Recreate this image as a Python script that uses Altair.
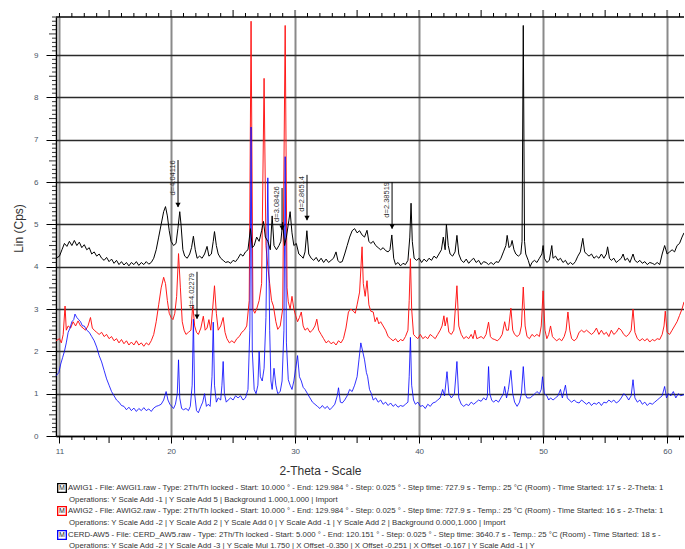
import altair as alt
import pandas as pd

# ---------------- data ----------------
awig1_theta = [10.72, 11.0, 11.2, 11.4, 11.6, 11.8, 12.0, 12.2, 12.4, 12.6, 12.8, 13.0, 13.2, 13.4, 13.6, 13.8,
               14.0, 14.2, 14.4, 14.6, 14.8, 15.0, 15.2, 15.4, 15.6, 15.8, 16.0, 16.2, 16.4, 16.6, 16.8, 17.0,
               17.2, 17.4, 17.6, 17.8, 18.0, 18.2, 18.4, 18.6, 18.8, 19.0, 19.2, 19.4, 19.55, 19.7, 19.85, 20.0,
               20.2, 20.4, 20.55, 20.7, 20.8, 20.95, 21.1, 21.3, 21.5, 21.65, 21.8, 21.95, 22.1, 22.3, 22.5, 22.7,
               22.9, 23.05, 23.25, 23.4, 23.5, 23.65, 23.8, 24.0, 24.2, 24.4, 24.6, 24.8, 25.0, 25.2, 25.4, 25.6,
               25.8, 26.0, 26.2, 26.4, 26.55, 26.7, 26.9, 27.1, 27.3, 27.45, 27.6, 27.8, 28.0, 28.15, 28.3, 28.5,
               28.7, 28.85, 29.0, 29.15, 29.3, 29.5, 29.6, 29.75, 29.9, 30.1, 30.3, 30.5, 30.65, 30.8, 30.95, 31.1,
               31.3, 31.5, 31.7, 31.9, 32.1, 32.3, 32.5, 32.7, 32.9, 33.1, 33.3, 33.45, 33.6, 33.8, 34.0, 34.2,
               34.4, 34.6, 34.8, 35.0, 35.2, 35.4, 35.6, 35.8, 35.95, 36.1, 36.3, 36.5, 36.7, 36.9, 37.1, 37.3,
               37.5, 37.65, 37.8, 37.95, 38.1, 38.3, 38.5, 38.7, 38.9, 39.1, 39.25, 39.35, 39.45, 39.6, 39.8, 40.0,
               40.2, 40.4, 40.6, 40.8, 41.0, 41.2, 41.4, 41.6, 41.8, 41.95, 42.1, 42.2, 42.35, 42.5, 42.7, 42.9,
               43.05, 43.2, 43.4, 43.6, 43.8, 44.0, 44.2, 44.4, 44.6, 44.8, 45.0, 45.2, 45.4, 45.6, 45.8, 46.0,
               46.2, 46.4, 46.6, 46.8, 47.0, 47.1, 47.25, 47.4, 47.5, 47.65, 47.8, 48.0, 48.2, 48.3, 48.4, 48.5,
               48.6, 48.8, 48.95, 49.1, 49.3, 49.5, 49.7, 49.9, 50.0, 50.1, 50.3, 50.5, 50.7, 50.8, 51.0, 51.2,
               51.4, 51.6, 51.8, 52.0, 52.2, 52.4, 52.6, 52.8, 53.0, 53.2, 53.35, 53.5, 53.7, 53.9, 54.1, 54.3,
               54.5, 54.7, 54.9, 55.1, 55.2, 55.35, 55.5, 55.7, 55.9, 56.1, 56.3, 56.45, 56.6, 56.8, 57.0, 57.25,
               57.4, 57.6, 57.8, 58.0, 58.2, 58.4, 58.6, 58.8, 59.0, 59.2, 59.4, 59.6, 59.8, 60.0, 60.2, 60.4,
               60.6, 60.8, 61.0, 61.2, 61.36]
awig1_lin = [4.2, 4.25, 4.4, 4.55, 4.48, 4.6, 4.5, 4.62, 4.5, 4.58, 4.45, 4.52, 4.4, 4.45, 4.3, 4.35,
             4.25, 4.3, 4.2, 4.15, 4.22, 4.12, 4.18, 4.08, 4.15, 4.05, 4.12, 4.04, 4.1, 4.02, 4.1, 4.05,
             4.12, 4.03, 4.1, 4.05, 4.12, 4.06, 4.1, 4.2, 4.4, 4.7, 5.0, 5.3, 5.42, 5.2, 4.85, 4.6,
             4.5, 4.55, 4.9, 5.3, 5.0, 4.4, 4.25, 4.2, 4.3, 4.45, 4.72, 4.4, 4.2, 4.25, 4.2, 4.3,
             4.48, 4.25, 4.3, 4.6, 4.83, 4.5, 4.3, 4.2, 4.15, 4.1, 4.12, 4.08, 4.15, 4.12, 4.2, 4.3,
             4.25, 4.35, 4.4, 4.9, 4.45, 4.5, 4.7, 4.6, 4.85, 5.07, 4.7, 4.6, 4.4, 5.2, 4.5, 4.4,
             4.5, 4.6, 5.05, 4.5, 4.7, 5.1, 5.3, 4.8, 4.5, 4.55, 4.3, 4.25, 4.2, 4.35, 4.85, 4.3,
             4.2, 4.15, 4.22, 4.12, 4.2, 4.1, 4.18, 4.1, 4.15, 4.2, 4.35, 4.15, 4.1, 4.12, 4.3, 4.5,
             4.7, 4.85, 4.9, 4.8, 4.85, 4.75, 4.7, 4.86, 4.6, 4.55, 4.6, 4.5, 4.45, 4.4, 4.45, 4.38,
             4.35, 4.4, 4.75, 4.2, 4.05, 4.1, 4.02, 4.08, 4.05, 4.15, 4.7, 5.5, 4.6, 4.2, 4.15, 4.2,
             4.1, 4.18, 4.12, 4.2, 4.15, 4.25, 4.2, 4.3, 4.4, 4.7, 4.4, 5.0, 4.5, 4.3, 4.25, 4.35,
             4.74, 4.3, 4.15, 4.1, 4.18, 4.08, 4.15, 4.2, 4.1, 4.15, 4.05, 4.12, 4.1, 4.05, 4.1, 4.05,
             4.12, 4.1, 4.2, 4.35, 4.5, 4.74, 4.45, 4.5, 4.62, 4.4, 4.3, 4.25, 4.3, 4.6, 9.7, 4.6,
             4.3, 4.15, 4.0, 4.1, 4.15, 4.1, 4.2, 4.3, 4.5, 4.2, 4.1, 4.15, 4.5, 4.2, 4.25, 4.15,
             4.2, 4.1, 4.15, 4.05, 4.1, 4.05, 4.12, 4.25, 4.35, 4.67, 4.35, 4.3, 4.25, 4.3, 4.2, 4.25,
             4.2, 4.3, 4.2, 4.3, 4.47, 4.2, 4.15, 4.2, 4.1, 4.15, 4.2, 4.3, 4.15, 4.2, 4.1, 4.3,
             4.15, 4.1, 4.15, 4.08, 4.12, 4.05, 4.1, 4.08, 4.05, 4.1, 4.05, 4.3, 4.5, 4.3, 4.35, 4.4,
             4.35, 4.5, 4.55, 4.7, 4.8]

awig2_theta = [10.72, 11.0, 11.15, 11.3, 11.45, 11.55, 11.7, 11.9, 12.1, 12.3, 12.5, 12.7, 12.9, 13.1, 13.3, 13.5,
               13.65, 13.8, 14.0, 14.2, 14.4, 14.6, 14.8, 15.0, 15.2, 15.4, 15.6, 15.8, 16.0, 16.2, 16.4, 16.6,
               16.8, 17.0, 17.2, 17.4, 17.6, 17.8, 18.0, 18.2, 18.4, 18.6, 18.8, 19.0, 19.2, 19.4, 19.55, 19.7,
               19.85, 20.0, 20.15, 20.3, 20.45, 20.6, 20.75, 20.9, 21.05, 21.2, 21.4, 21.6, 21.75, 21.9, 22.05, 22.2,
               22.4, 22.6, 22.75, 22.9, 23.05, 23.2, 23.35, 23.5, 23.65, 23.8, 24.0, 24.2, 24.35, 24.5, 24.7, 24.9,
               25.1, 25.3, 25.5, 25.7, 25.9, 26.1, 26.3, 26.45, 26.6, 26.75, 26.9, 27.1, 27.3, 27.5, 27.65, 27.8,
               27.95, 28.1, 28.25, 28.45, 28.6, 28.8, 29.0, 29.2, 29.35, 29.45, 29.6, 29.75, 29.9, 30.05, 30.2, 30.35,
               30.5, 30.65, 30.8, 31.0, 31.2, 31.4, 31.6, 31.75, 31.9, 32.1, 32.3, 32.5, 32.7, 32.9, 33.1, 33.3,
               33.5, 33.7, 33.9, 34.1, 34.3, 34.5, 34.7, 34.85, 35.0, 35.2, 35.4, 35.5, 35.65, 35.8, 35.95, 36.1,
               36.3, 36.45, 36.6, 36.75, 36.9, 37.1, 37.3, 37.5, 37.7, 37.9, 38.1, 38.3, 38.5, 38.7, 38.9, 39.1,
               39.2, 39.3, 39.4, 39.55, 39.7, 39.9, 40.1, 40.3, 40.5, 40.7, 40.9, 41.1, 41.3, 41.5, 41.7, 41.85,
               42.0, 42.1, 42.25, 42.4, 42.6, 42.8, 43.05, 43.2, 43.4, 43.6, 43.8, 44.0, 44.2, 44.35, 44.5, 44.65,
               44.8, 45.0, 45.2, 45.4, 45.6, 45.75, 45.9, 46.1, 46.3, 46.5, 46.7, 46.9, 47.05, 47.2, 47.4, 47.55,
               47.7, 47.9, 48.1, 48.25, 48.4, 48.55, 48.7, 48.9, 49.1, 49.3, 49.5, 49.7, 49.85, 50.0, 50.15, 50.3,
               50.45, 50.6, 50.75, 50.9, 51.1, 51.3, 51.5, 51.7, 51.85, 52.0, 52.15, 52.3, 52.5, 52.7, 52.9, 53.1,
               53.3, 53.5, 53.7, 53.9, 54.1, 54.3, 54.5, 54.7, 54.9, 55.1, 55.3, 55.5, 55.7, 55.9, 56.1, 56.3,
               56.5, 56.7, 56.9, 57.1, 57.25, 57.4, 57.6, 57.8, 58.0, 58.2, 58.4, 58.6, 58.8, 59.0, 59.2, 59.4,
               59.6, 59.75, 59.85, 60.0, 60.2, 60.4, 60.6, 60.8, 61.0, 61.2, 61.36]
awig2_lin = [2.25, 2.3, 2.2, 2.4, 3.07, 2.5, 2.6, 2.55, 2.7, 2.6, 2.72, 2.6, 2.55, 2.5, 2.6, 2.8,
             2.55, 2.5, 2.45, 2.4, 2.45, 2.35, 2.4, 2.3, 2.35, 2.25, 2.3, 2.2, 2.28, 2.18, 2.25, 2.15,
             2.22, 2.15, 2.25, 2.15, 2.2, 2.12, 2.2, 2.15, 2.25, 2.4, 2.7, 3.1, 3.5, 3.75, 3.6, 3.2,
             2.9, 2.8, 2.75, 2.9, 3.3, 4.31, 3.5, 2.7, 2.5, 2.4, 2.45, 2.5, 3.1, 2.6, 2.45, 2.4,
             2.55, 2.83, 2.5, 2.55, 2.75, 2.5, 3.0, 3.55, 2.9, 2.5, 2.6, 2.8, 2.45, 2.3, 2.2, 2.25,
             2.2, 2.3, 2.35, 2.45, 2.5, 2.6, 3.2, 9.8, 3.0, 2.9, 3.0, 3.2, 3.6, 8.45, 4.5, 4.0,
             3.6, 3.2, 3.07, 2.7, 2.52, 2.6, 3.0, 9.7, 3.5, 3.17, 3.0, 3.3, 3.0, 2.84, 2.7, 2.8,
             2.93, 2.6, 2.5, 2.55, 2.45, 2.5, 2.6, 2.76, 2.5, 2.4, 2.3, 2.2, 2.25, 2.18, 2.22, 2.15,
             2.25, 2.2, 2.3, 2.55, 2.93, 3.0, 2.95, 2.9, 3.1, 3.4, 4.47, 3.6, 3.3, 3.67, 3.1, 2.95,
             2.93, 2.7, 2.8, 2.65, 2.7, 2.6, 2.5, 2.35, 2.3, 2.25, 2.3, 2.22, 2.28, 2.25, 2.35, 2.5,
             3.2, 4.19, 3.0, 2.4, 2.35, 2.3, 2.4, 2.3, 2.35, 2.3, 2.4, 2.35, 2.3, 2.4, 2.5, 2.6,
             2.84, 2.6, 2.8, 2.45, 2.4, 2.5, 3.55, 2.6, 2.4, 2.3, 2.35, 2.3, 2.4, 2.3, 2.5, 2.3,
             2.32, 2.35, 2.3, 2.4, 2.69, 2.35, 2.3, 2.28, 2.25, 2.3, 2.4, 2.7, 2.5, 2.5, 3.02, 2.5,
             2.4, 2.35, 2.4, 2.6, 3.52, 2.6, 2.35, 2.3, 2.4, 2.35, 2.4, 2.35, 2.6, 3.43, 2.5, 2.3,
             2.4, 2.6, 2.35, 2.3, 2.25, 2.3, 2.25, 2.35, 2.5, 2.93, 2.5, 2.3, 2.25, 2.3, 2.45, 2.5,
             2.45, 2.5, 2.45, 2.4, 2.45, 2.55, 2.4, 2.5, 2.4, 2.45, 2.35, 2.5, 2.4, 2.45, 2.55, 2.5,
             2.4, 2.35, 2.4, 2.5, 3.0, 2.45, 2.3, 2.25, 2.3, 2.25, 2.3, 2.22, 2.28, 2.25, 2.3, 2.28,
             2.4, 2.6, 2.95, 2.45, 2.4, 2.5, 2.6, 2.7, 2.85, 3.0, 3.17]

cerd_theta = [10.72, 10.95, 11.1, 11.25, 11.4, 11.55, 11.7, 11.85, 12.0, 12.15, 12.25, 12.4, 12.55, 12.7, 12.85, 13.0,
              13.2, 13.4, 13.6, 13.8, 14.0, 14.2, 14.4, 14.6, 14.8, 15.0, 15.2, 15.4, 15.6, 15.8, 16.0, 16.2,
              16.4, 16.6, 16.8, 17.0, 17.2, 17.4, 17.6, 17.8, 18.0, 18.2, 18.4, 18.6, 18.8, 19.0, 19.2, 19.4,
              19.6, 19.75, 19.9, 20.05, 20.2, 20.35, 20.5, 20.6, 20.7, 20.85, 21.0, 21.2, 21.4, 21.55, 21.7, 21.8,
              21.9, 22.05, 22.2, 22.4, 22.55, 22.7, 22.85, 23.0, 23.15, 23.3, 23.4, 23.5, 23.65, 23.8, 24.0, 24.1,
              24.2, 24.3, 24.45, 24.6, 24.8, 25.0, 25.2, 25.4, 25.6, 25.8, 26.0, 26.2, 26.35, 26.45, 26.55, 26.7,
              26.85, 27.0, 27.1, 27.2, 27.35, 27.5, 27.65, 27.8, 27.95, 28.05, 28.15, 28.3, 28.45, 28.6, 28.8, 28.95,
              29.1, 29.2, 29.3, 29.45, 29.6, 29.75, 29.9, 30.05, 30.2, 30.35, 30.5, 30.65, 30.8, 31.0, 31.2, 31.4,
              31.6, 31.8, 32.0, 32.2, 32.4, 32.6, 32.8, 33.0, 33.2, 33.4, 33.5, 33.65, 33.8, 34.0, 34.2, 34.4,
              34.6, 34.8, 35.0, 35.15, 35.3, 35.45, 35.6, 35.75, 35.85, 36.0, 36.15, 36.3, 36.5, 36.7, 36.9, 37.1,
              37.3, 37.5, 37.7, 37.9, 38.1, 38.3, 38.5, 38.7, 38.9, 39.1, 39.2, 39.3, 39.4, 39.55, 39.7, 39.9,
              40.1, 40.3, 40.5, 40.7, 40.9, 41.1, 41.3, 41.5, 41.7, 41.9, 42.05, 42.25, 42.4, 42.6, 42.85, 43.05,
              43.2, 43.4, 43.6, 43.8, 44.0, 44.2, 44.4, 44.6, 44.8, 45.0, 45.2, 45.4, 45.5, 45.6, 45.7, 45.85,
              46.0, 46.2, 46.4, 46.6, 46.8, 46.9, 47.05, 47.2, 47.4, 47.55, 47.7, 47.9, 48.1, 48.25, 48.4, 48.55,
              48.7, 48.95, 49.15, 49.35, 49.5, 49.7, 49.85, 49.95, 50.1, 50.3, 50.45, 50.6, 50.8, 51.0, 51.2, 51.4,
              51.55, 51.8, 51.95, 52.1, 52.3, 52.5, 52.7, 52.9, 53.1, 53.3, 53.5, 53.7, 53.9, 54.1, 54.3, 54.5,
              54.7, 54.9, 55.1, 55.3, 55.5, 55.7, 55.9, 56.1, 56.3, 56.5, 56.7, 56.9, 57.1, 57.25, 57.4, 57.6,
              57.8, 58.0, 58.2, 58.4, 58.6, 58.8, 59.0, 59.2, 59.4, 59.6, 59.8, 59.95, 60.1, 60.3, 60.5, 60.7,
              60.9, 61.1, 61.36]
cerd_lin = [1.42, 1.5, 1.7, 1.85, 2.0, 2.2, 2.45, 2.55, 2.7, 2.75, 2.88, 2.8, 2.75, 2.7, 2.6, 2.6,
            2.5, 2.45, 2.35, 2.25, 2.1, 1.9, 1.75, 1.55, 1.35, 1.2, 1.05, 0.95, 0.85, 0.8, 0.72, 0.7,
            0.62, 0.68, 0.6, 0.66, 0.58, 0.65, 0.6, 0.67, 0.6, 0.64, 0.58, 0.66, 0.7, 0.72, 0.75, 0.85,
            1.05, 0.85, 0.75, 0.7, 0.65, 0.75, 1.0, 1.8, 0.9, 0.65, 0.62, 0.65, 0.6, 0.7, 1.2, 2.76,
            1.0, 0.6, 0.55, 0.7, 0.8, 1.0, 0.7, 0.75, 0.7, 1.4, 2.69, 1.2, 0.8, 0.9, 0.85, 1.2,
            1.76, 1.0, 0.8, 0.85, 0.9, 0.85, 0.95, 0.9, 0.95, 0.85, 0.9, 1.1, 2.5, 7.3, 2.0, 1.1,
            1.0, 1.2, 2.0, 1.4, 1.3, 1.6, 2.8, 6.1, 2.5, 1.3, 1.1, 1.6, 1.2, 1.0, 1.05, 1.3,
            2.5, 6.6, 2.2, 1.33, 1.2, 1.1, 1.3, 1.6, 1.9, 1.4, 1.3, 1.15, 1.1, 1.0, 0.9, 0.8,
            0.75, 0.7, 0.65, 0.72, 0.65, 0.7, 0.62, 0.68, 0.75, 0.95, 1.14, 0.8, 0.78, 0.85, 0.95, 1.1,
            1.05, 1.2, 1.4, 1.8, 2.2, 2.0, 1.8, 1.5, 1.4, 1.1, 1.0, 0.85, 0.9, 0.8, 0.85, 0.75,
            0.8, 0.72, 0.78, 0.7, 0.75, 0.68, 0.72, 0.7, 0.75, 0.8, 1.4, 2.33, 1.2, 0.85, 0.75, 0.8,
            0.7, 0.72, 0.65, 0.75, 0.7, 0.78, 0.8, 0.85, 0.9, 1.1, 0.95, 1.52, 1.0, 0.9, 1.0, 1.76,
            0.9, 0.75, 0.7, 0.75, 0.72, 0.8, 0.75, 0.8, 0.85, 0.82, 0.9, 0.85, 0.93, 1.64, 1.0, 0.85,
            0.8, 0.85, 0.8, 0.9, 1.0, 1.17, 0.9, 1.1, 1.55, 1.0, 0.8, 0.7, 0.8, 1.0, 1.64, 1.0,
            0.9, 0.9, 0.95, 1.0, 1.05, 1.0, 1.1, 1.4, 1.0, 0.95, 0.85, 0.9, 0.85, 0.9, 0.95, 1.1,
            0.9, 1.2, 0.9, 0.85, 0.8, 0.85, 0.8, 0.78, 0.85, 0.8, 0.75, 0.8, 0.72, 0.78, 0.75, 0.8,
            0.72, 0.8, 0.78, 0.85, 0.8, 0.85, 0.78, 0.82, 0.9, 1.0, 0.95, 0.85, 0.95, 1.33, 0.9, 0.8,
            0.85, 0.75, 0.8, 0.72, 0.78, 0.75, 0.8, 0.85, 0.9, 0.95, 1.17, 0.9, 1.0, 0.95, 1.05, 0.9,
            1.0, 0.95, 0.98]

x_tick_labels = [11, 20, 30, 40, 50, 60]
y_tick_labels = [0, 1, 2, 3, 4, 5, 6, 7, 8, 9]

peak_labels = ["d=4.04116", "d=3.08426", "d=2.86514", "d=2.38519", "d=4.02279"]
peak_theta = [20.56, 28.95, 30.96, 37.82, 22.09]
peak_arrow_top = [6.52, 5.86, 6.17, 6.0, 3.88]
peak_arrow_tip = [5.41, 4.87, 5.1, 4.9, 2.77]
peak_text_theta = [20.16, 28.58, 30.58, 37.44, 21.71]
peak_text_lin = [6.1, 5.48, 5.72, 5.58, 3.43]

legend_names = ["AWIG1", "AWIG2", "CERD-AW5"]
legend_colors = ["#000000", "#ff0000", "#0000ff"]
legend_lines = [
    "AWIG1 - File: AWGI1.raw - Type: 2Th/Th locked - Start: 10.000 ° - End: 129.984 ° - Step: 0.025 ° - Step time: 727.9 s - Temp.: 25 °C (Room) - Time Started: 17 s - 2-Theta: 1",
    "Operations: Y Scale Add -1 | Y Scale Add 5 | Background 1.000,1.000 | Import",
    "AWIG2 - File: AWIG2.raw - Type: 2Th/Th locked - Start: 10.000 ° - End: 129.984 ° - Step: 0.025 ° - Step time: 727.9 s - Temp.: 25 °C (Room) - Time Started: 16 s - 2-Theta: 1",
    "Operations: Y Scale Add -2 | Y Scale Add 2 | Y Scale Add 0 | Y Scale Add -1 | Y Scale Add 2 | Background 0.000,1.000 | Import",
    "CERD-AW5 - File: CERD_AW5.raw - Type: 2Th/Th locked - Start: 5.000 ° - End: 120.151 ° - Step: 0.025 ° - Step time: 3640.7 s - Temp.: 25 °C (Room) - Time Started: 18 s -",
    "Operations: Y Scale Add -2 | Y Scale Add -3 | Y Scale Mul 1.750 | X Offset -0.350 | X Offset -0.251 | X Offset -0.167 | Y Scale Add -1 | Y",
]

# ---------------- layout ----------------
W, H = 628, 419
PAD_L, PAD_T = 56, 17
X_DOM = [10.72, 61.36]
Y_DOM = [0, 9.9]
FONT = "Liberation Sans"

xs = alt.Scale(domain=X_DOM, nice=False, zero=False)
ys = alt.Scale(domain=Y_DOM, nice=False, zero=False)

axis_x = alt.Axis(values=x_tick_labels, format="d", grid=True, gridColor="#8a8a8a", gridWidth=2,
                  tickSize=7, tickColor="#000000", tickWidth=1, domainColor="#000000", domainWidth=1.5,
                  labelFontSize=8, labelColor="#4a5566", labelPadding=4, labelFont=FONT,
                  title="2-Theta - Scale", titleFontSize=12, titleFontWeight="normal", titleColor="#333333",
                  titleFont=FONT, titleX=264, titleY=34, titleBaseline="middle", titleAlign="center")
axis_y = alt.Axis(values=y_tick_labels, format="d", grid=True, gridColor="#2a2a2a", gridWidth=1.3,
                  tickSize=10, tickColor="#000000", tickWidth=1, domainColor="#000000", domainWidth=1.5,
                  labelFontSize=8, labelColor="#4a5566", labelPadding=8, labelFont=FONT,
                  title="Lin (Cps)", titleFontSize=12, titleFontWeight="normal", titleColor="#333333",
                  titleFont=FONT, titleAngle=270, titleX=-38, titleY=211, titleAlign="center",
                  titleBaseline="middle")

X = lambda f: alt.X(f, scale=xs, axis=axis_x)
Y = lambda f: alt.Y(f, scale=ys, axis=axis_y)


def line_layer(t, v, color, opacity):
    df = pd.DataFrame({"theta": t, "lin": v})
    return alt.Chart(df).mark_line(color=color, strokeWidth=1, opacity=opacity).encode(
        x=X("theta:Q"), y=Y("lin:Q"))


red = line_layer(awig2_theta, awig2_lin, "#ff1010", 0.95)
blue = line_layer(cerd_theta, cerd_lin, "#0000ff", 0.8)
black = line_layer(awig1_theta, awig1_lin, "#000000", 1.0)

# minor ticks
deg = list(range(11, 62))
minor_deg = pd.DataFrame({"theta": [d for d in deg if d % 5 != 0]})
five_deg = pd.DataFrame({"theta": [d for d in deg if d % 5 == 0 and d % 10 != 0]})
ten_deg = pd.DataFrame({"theta": [d for d in deg if d % 10 == 0]})

bottom_minor = alt.Chart(minor_deg).mark_rule(color="#000000", strokeWidth=1).encode(
    x=X("theta:Q"), y=alt.value(H), y2=alt.value(H + 4))
bottom_five = alt.Chart(five_deg).mark_rule(color="#000000", strokeWidth=1).encode(
    x=X("theta:Q"), y=alt.value(H), y2=alt.value(H + 7))
top_minor = alt.Chart(minor_deg).mark_rule(color="#000000", strokeWidth=1).encode(
    x=X("theta:Q"), y=alt.value(0), y2=alt.value(-4))
top_five = alt.Chart(five_deg).mark_rule(color="#000000", strokeWidth=1).encode(
    x=X("theta:Q"), y=alt.value(0), y2=alt.value(-7))
top_ten = alt.Chart(ten_deg).mark_rule(color="#8a8a8a", strokeWidth=2).encode(
    x=X("theta:Q"), y=alt.value(0), y2=alt.value(-7))

tenths = [round(i / 10, 1) for i in range(0, 100) if i % 10 != 0]
y_minor = alt.Chart(pd.DataFrame({"lin": [v for v in tenths if round(v * 10) % 5 != 0]})).mark_rule(
    color="#000000", strokeWidth=0.8).encode(y=Y("lin:Q"), x=alt.value(-4), x2=alt.value(0))
y_half = alt.Chart(pd.DataFrame({"lin": [v for v in tenths if round(v * 10) % 5 == 0]})).mark_rule(
    color="#000000", strokeWidth=0.8).encode(y=Y("lin:Q"), x=alt.value(-7), x2=alt.value(0))

top_border = alt.Chart(pd.DataFrame({"a": [0]})).mark_rule(color="#000000", strokeWidth=1.5).encode(
    x=alt.value(0), x2=alt.value(W), y=alt.value(0))

# peak annotations
ann = pd.DataFrame({"label": peak_labels, "theta": peak_theta, "top": peak_arrow_top, "tip": peak_arrow_tip,
                    "tx": peak_text_theta, "ty": peak_text_lin})
ann_rule = alt.Chart(ann).mark_rule(color="#000000", strokeWidth=1).encode(
    x=X("theta:Q"), y=Y("top:Q"), y2="tip:Q")
ann_head = alt.Chart(ann).mark_point(shape="triangle-down", filled=True, color="#000000", size=28,
                                     opacity=1, yOffset=-2).encode(x=X("theta:Q"), y=Y("tip:Q"))
ann_text = alt.Chart(ann).mark_text(angle=270, fontSize=7.5, font=FONT, color="#333333", align="center",
                                    baseline="middle").encode(x=X("tx:Q"), y=Y("ty:Q"), text="label:N")

# legend block (text lines under the chart)
legend_layers = []
line_y = [488, 500, 511, 523, 535, 546]
for i, txt in enumerate(legend_lines):
    legend_layers.append(
        alt.Chart(pd.DataFrame({"t": [txt]})).mark_text(
            fontSize=7.8, font=FONT, color="#333333", align="left", baseline="middle").encode(
            x=alt.value(68 - PAD_L + (0 if i % 2 == 0 else 1)), y=alt.value(line_y[i] - PAD_T), text="t:N"))
for j, (nm, col) in enumerate(zip(legend_names, legend_colors)):
    yy = line_y[2 * j] - PAD_T
    legend_layers.append(
        alt.Chart(pd.DataFrame({"n": [nm]})).mark_point(shape="square", filled=True, fill="#ffffff", stroke=col,
                                                     strokeWidth=1.3, size=75, opacity=1).encode(
            x=alt.value(62 - PAD_L), y=alt.value(yy)))
    legend_layers.append(
        alt.Chart(pd.DataFrame({"n": [nm]})).mark_text(text="M", fontSize=7, font=FONT, color="#222222",
                                                    align="center", baseline="middle").encode(
            x=alt.value(62 - PAD_L), y=alt.value(yy)))

chart = alt.layer(
    red, blue, black,
    bottom_minor, bottom_five, top_minor, top_five, top_ten, y_minor, y_half, top_border,
    ann_rule, ann_head, ann_text,
    *legend_layers,
).properties(
    width=W, height=H,
    padding={"left": PAD_L, "top": PAD_T, "right": 0, "bottom": 549 - PAD_T - H},
    autosize=alt.AutoSizeParams(type="none"),
    background="#ffffff",
).configure_view(stroke=None)

chart.save("out.html", embed_options={"renderer": "svg", "actions": False})
